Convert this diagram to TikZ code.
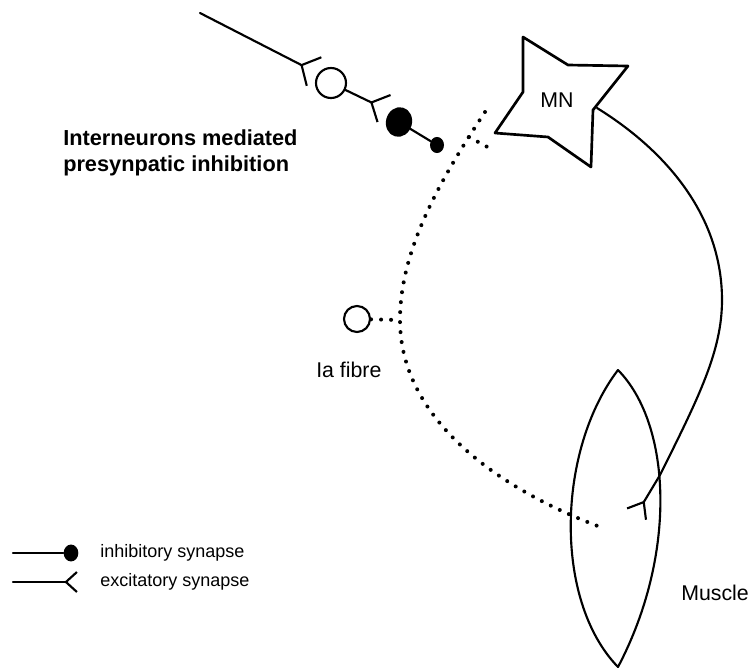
\documentclass[tikz,border=0pt]{standalone}
\usepackage{fontspec}
\setmainfont{Liberation Sans}
\usepackage{tikz}
\usetikzlibrary{arrows.meta,shapes.geometric}

\begin{document}
\begin{tikzpicture}[x=0.75pt,y=0.75pt,yscale=-1,xscale=1,
  axon/.style={line width=1.6pt,line cap=round,line join=round},
  excite/.style={axon,-{Straight Barb[reversed,length=10.5pt,width=#1]}},
  excite/.default=22pt,
  iafib/.style={line width=3pt,line cap=round,dash pattern=on 0pt off 7.5pt},
  inter/.style={circle,draw,line width=1.6pt,inner sep=0pt,minimum size=#1},
  knob/.style={ellipse,fill,inner sep=0pt,minimum width=#1,minimum height=#1*1.15},
  lbl/.style={inner sep=0.75pt,font=\fontsize{16}{19.5}\selectfont}]
\useasboundingbox (0,0) rectangle (751,672);

%Shape: Star (motoneuron)
\draw[axon,line width=2pt] (523,37) -- (568,65) -- (628,66) -- (593,110) -- (591,167) -- (548,137) -- (495,133) -- (523,92) -- cycle ;
\node[lbl] (mn) at (557,100) {MN};
\coordinate (mnout) at (597,108);

%Shape: Muscle
\draw[axon] (618,370) .. controls (557,450) and (553,600) .. (618,667) ;
\draw[axon] (618,370) .. controls (672,425) and (677,555) .. (618,667) ;
\coordinate (endplate) at (636,515);

%Curve Lines: motor axon
\draw[excite=16.5pt] (mnout) .. controls (665,150) and (722,215) .. (722,300) .. controls (722,350) and (700,395) .. (660,475) -- (endplate) ;

%Interneuron chain
\coordinate (axst) at (200,13);
\coordinate (syn1) at (315,72);
\node[inter=22.5pt] (in1) at (331,83) {};
\coordinate (syn2) at (385,109);
\node[knob=19.5pt,rotate=-15] (in2) at (399,122) {};
\node[knob=10.5pt] (term) at (437,145) {};
\draw[excite=24pt] (axst) -- (syn1) ;
\draw[excite=22.5pt] (in1) -- (syn2) ;
\draw[axon] (in2) -- (term) ;

%Dotted: Ia fibre
\coordinate (iatop) at (485,112);
\coordinate (iamid) at (400,320);
\coordinate (iaend) at (603,528);
\coordinate (iabr) at (469,137);
\coordinate (iabrend) at (493,150);
\node[inter=19.5pt] (ia) at (357,319) {};
\draw[iafib] (iatop) .. controls (440,180) and (400,250) .. (iamid) .. controls (400,420) and (500,490) .. (iaend) ;
\draw[iafib] (iabr) -- (iabrend) ;
\draw[iafib] (ia) -- (iamid) ;

% Text Node
\node[lbl,font=\fontsize{16.3}{19.5}\selectfont\bfseries,anchor=north west,align=left] (title) at (62,128) {Interneurons mediated\\presynpatic inhibition};
% Text Node
\node[lbl,anchor=west] (ialbl) at (315,370) {Ia fibre};
% Text Node
\node[lbl,anchor=west] (muslbl) at (680,593) {Muscle};

%Legend
\coordinate (legi) at (13,553);
\node[knob=11pt] (legdot) at (71,553) {};
\draw[axon] (legi) -- (legdot) ;
\coordinate (lege) at (13,582);
\coordinate (legeend) at (78,582);
\draw[axon,-{Straight Barb[reversed,length=8.25pt,width=15pt]}] (lege) -- (legeend) ;
% Text Node
\node[inner sep=0.75pt,anchor=west,font=\fontsize{13.5}{16}\selectfont] (leginh) at (99,553) {inhibitory synapse};
% Text Node
\node[inner sep=0.75pt,anchor=west,font=\fontsize{13.5}{16}\selectfont] (legexc) at (99,582) {excitatory synapse};

\end{tikzpicture}
\end{document}
